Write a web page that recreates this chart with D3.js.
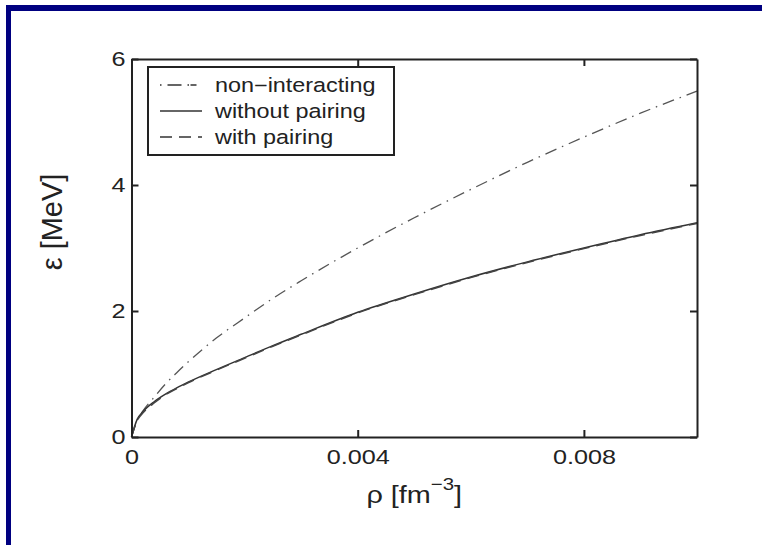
<!DOCTYPE html>
<html>
<head>
<meta charset="utf-8">
<script src="https://cdn.jsdelivr.net/npm/d3@7"></script>
<style>
  html, body { margin: 0; padding: 0; background: #fff; }
  svg { display: block; font-family: "Liberation Sans", Arial, Helvetica, sans-serif; }
</style>
</head>
<body>
<div id="chart"></div>
<script>
// densities (fm^-3)
const rho = [0, 0.0001, 0.0002, 0.0004, 0.0006, 0.0008, 0.001, 0.0015, 0.002, 0.0025,
             0.003, 0.004, 0.005, 0.006, 0.007, 0.008, 0.009, 0.01];
// energy per particle (MeV)
const nonInteracting = [0, 0.26, 0.41, 0.63, 0.84, 1.02, 1.19, 1.57, 1.89, 2.20,
                        2.48, 3.00, 3.48, 3.93, 4.36, 4.76, 5.14, 5.49];
const withoutPairing = [0, 0.28, 0.40, 0.56, 0.68, 0.78, 0.87, 1.07, 1.26, 1.45,
                        1.63, 1.98, 2.27, 2.54, 2.78, 3.00, 3.21, 3.40];
const withPairing    = [0, 0.26, 0.38, 0.54, 0.67, 0.77, 0.86, 1.06, 1.25, 1.44,
                        1.62, 1.97, 2.26, 2.53, 2.77, 2.99, 3.20, 3.39];

const xTicks = [0, 0.004, 0.008];
const yTicks = [0, 2, 4, 6];
const legendLabels = ["non\u2212interacting", "without pairing", "with pairing"];

const W = 762, H = 545;
const m = { left: 131.5, right: 697, top: 59, bottom: 437 };
const stretch = 1.2; // the original figure is stretched sideways

const svg = d3.select("#chart").append("svg")
    .attr("width", W)
    .attr("height", H);

// navy frame around the page (top and left)
svg.append("rect").attr("x", 6).attr("y", 5).attr("width", W - 6).attr("height", 6).attr("fill", "#000080");
svg.append("rect").attr("x", 6).attr("y", 5).attr("width", 5).attr("height", H - 5).attr("fill", "#000080");

const x = d3.scaleLinear().domain([0, 0.01]).range([m.left, m.right]);
const y = d3.scaleLinear().domain([0, 6]).range([m.bottom, m.top]);

const series = [
    { name: legendLabels[0], values: nonInteracting, dash: "12,6,1.5,6", color: "#555", width: 1.3 },
    { name: legendLabels[1], values: withoutPairing, dash: null, color: "#333", width: 1.5 },
    { name: legendLabels[2], values: withPairing, dash: "12,7", color: "#444", width: 1.5 }
];

const line = d3.line()
    .x(d => x(d[0]))
    .y(d => y(d[1]))
    .curve(d3.curveMonotoneX);

svg.append("g")
    .selectAll("path")
    .data(series)
    .join("path")
    .attr("fill", "none")
    .attr("stroke", d => d.color)
    .attr("stroke-width", d => d.width)
    .attr("stroke-dasharray", d => d.dash)
    .attr("d", d => line(rho.map((r, i) => [r, d.values[i]])));

// axes (box with inward ticks)
const tickLen = 7;
const styleAxis = g => {
    g.select(".domain").attr("stroke", "#222").attr("stroke-width", 2);
    g.selectAll(".tick line").attr("stroke", "#222").attr("stroke-width", 2);
    g.selectAll(".tick text").attr("fill", "#222").attr("font-size", 21);
};

svg.append("g")
    .attr("transform", `translate(0,${m.bottom})`)
    .call(d3.axisBottom(x).tickValues(xTicks).tickFormat(d => d === 0 ? "0" : d3.format(".3f")(d))
        .tickSizeInner(-tickLen).tickSizeOuter(0).tickPadding(12))
    .call(styleAxis)
    .call(g => g.selectAll(".tick text").attr("transform", `scale(${stretch},1)`));

svg.append("g")
    .attr("transform", `translate(0,${m.top})`)
    .call(d3.axisTop(x).tickValues(xTicks).tickFormat("").tickSizeInner(-tickLen).tickSizeOuter(0))
    .call(styleAxis);

svg.append("g")
    .attr("transform", `translate(${m.left},0)`)
    .call(d3.axisLeft(y).tickValues(yTicks).tickFormat(d3.format("d"))
        .tickSizeInner(-tickLen).tickSizeOuter(0).tickPadding(5))
    .call(styleAxis)
    .call(g => g.selectAll(".tick text").attr("transform", `scale(${stretch},1)`));

svg.append("g")
    .attr("transform", `translate(${m.right},0)`)
    .call(d3.axisRight(y).tickValues(yTicks).tickFormat("").tickSizeInner(-tickLen).tickSizeOuter(0))
    .call(styleAxis);

// axis labels
const xLabel = svg.append("text")
    .attr("transform", `translate(${(m.left + m.right) / 2},503) scale(${stretch},1)`)
    .attr("text-anchor", "middle")
    .attr("font-size", 24)
    .attr("fill", "#222");
xLabel.append("tspan").text("\u03c1 [fm");
xLabel.append("tspan").attr("dy", -13).attr("font-size", 17).text("\u22123");
xLabel.append("tspan").attr("dy", 13).text("]");

svg.append("text")
    .attr("transform", `translate(62,222) rotate(-90)`)
    .attr("text-anchor", "middle")
    .attr("font-size", 29)
    .attr("fill", "#222")
    .text("\u03b5 [MeV]");

// legend
const lg = svg.append("g");
lg.append("rect")
    .attr("x", 148).attr("y", 67)
    .attr("width", 246).attr("height", 88)
    .attr("fill", "#fff")
    .attr("stroke", "#222")
    .attr("stroke-width", 2);

const rowY = [85, 111, 137];
const items = lg.selectAll("g.item")
    .data(series)
    .join("g")
    .attr("class", "item")
    .attr("transform", (d, i) => `translate(0,${rowY[i]})`);

items.append("line")
    .attr("x1", 160).attr("x2", 202)
    .attr("stroke", "#333")
    .attr("stroke-width", 1.5)
    .attr("stroke-dasharray", (d, i) => i === 0 ? "1.5,6,14,6,1.5" : d.dash);

items.append("text")
    .attr("transform", `translate(215,0) scale(${stretch},1)`)
    .attr("dy", "0.35em")
    .attr("font-size", 19.5)
    .attr("fill", "#222")
    .text(d => d.name);
</script>
</body>
</html>
